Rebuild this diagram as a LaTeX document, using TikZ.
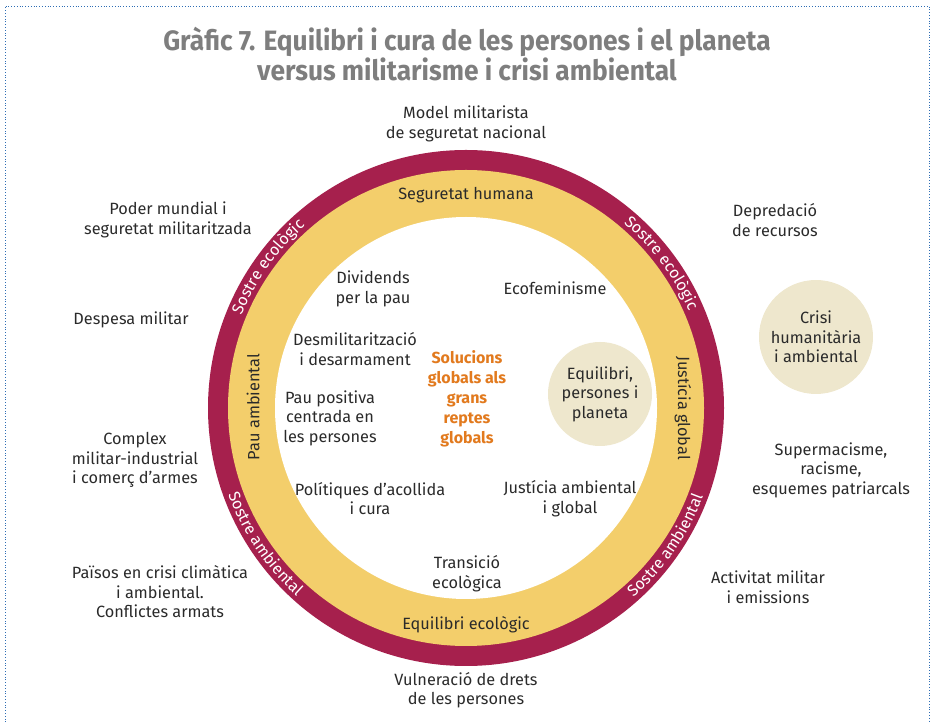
\documentclass[tikz,border=0pt]{standalone}
\usepackage{fontspec}
\setmainfont{Fira Sans}
\newfontfamily\titlefont{Fira Sans}[FakeStretch=0.94]
\usetikzlibrary{decorations.text,calc}
\definecolor{ringred}{HTML}{A6204D}
\definecolor{ringyel}{HTML}{F3CE6B}
\definecolor{beige}{HTML}{EEE7CD}
\definecolor{orng}{HTML}{E27A1E}
\definecolor{tgray}{HTML}{7E7E7E}
\definecolor{ink}{HTML}{2A2A2A}
\definecolor{bordblue}{HTML}{2E6DB4}
\begin{document}
\begin{tikzpicture}[x=1pt,y=1pt,
  txt/.style={font=\fontsize{16.3}{19.5}\selectfont, text=ink, align=center, inner sep=0pt},
  sol/.style={font=\bfseries\fontsize{16}{20}\selectfont, text=orng, align=center, inner sep=0pt},
  ttl/.style={font=\titlefont\bfseries\fontsize{28}{28}\selectfont, text=tgray, align=center, inner sep=0pt},
  disc/.style={circle, inner sep=0pt, draw=none},
  ringtext/.style={decorate, decoration={text along path, text align=center,
      text={|\color{white}\fontsize{16}{16}\selectfont|#1}}},
  bord/.style={draw=bordblue, line width=0.8pt, dotted}]
\useasboundingbox (0,0) rectangle (932,723);
\draw[bord] (5,-2) -- (5,717) -- (929,717) -- (929,-2);
\coordinate (C) at (466,315);

% title
\node[ttl] (title) at (467,669) {Gràfic 7. Equilibri i cura de les persones i el planeta\\versus militarisme i crisi ambiental};

% rings
\node[disc, fill=ringred, minimum size=516] (outer) at (C) {};
\node[disc, fill=ringyel, minimum size=476] (middle) at (C) {};
\node[disc, fill=white, minimum size=382] (inner) at (C) {};

% curved texts on red ring
\path[ringtext={Sostre ecològic}] ($(C)+(172:243)$) arc[start angle=172, end angle=117, radius=243];
\path[ringtext={Sostre ecològic}] ($(C)+(64:243)$) arc[start angle=64, end angle=9, radius=243];
\path[ringtext={Sostre ambiental}] ($(C)+(186:253)$) arc[start angle=186, end angle=242, radius=253];
\path[ringtext={Sostre ambiental}] ($(C)+(298:253)$) arc[start angle=298, end angle=353, radius=253];

% yellow ring labels
\node[txt] (segh) at (466,528) {Seguretat humana};
\node[txt] (eqec) at (466,98) {Equilibri ecològic};
\node[txt, rotate=90] (pauamb) at (253,316) {Pau ambiental};
\node[txt, rotate=-90] (jusglob) at (683,315) {Justícia global};

% inner texts
\node[txt] (divid) at (373,434) {Dividends\\per la pau};
\node[txt] (ecofem) at (555,435) {Ecofeminisme};
\node[txt] (desmil) at (355,374) {Desmilitarització\\i desarmament};
\node[txt] (paupos) at (330,305) {Pau positiva\\centrada en\\les persones};
\node[sol] (solu) at (467,324) {Solucions\\globals als\\grans\\reptes\\globals};
\node[txt] (polit) at (370,224.5) {Polítiques d'acollida\\i cura};
\node[txt] (jusamb) at (570,224.5) {Justícia ambiental\\i global};
\node[txt] (trans) at (467,149.5) {Transició\\ecològica};
\node[disc, fill=beige, minimum size=104, txt] (equil) at (600,329) {Equilibri,\\persones i\\planeta};

% outer texts
\node[txt] (model) at (466,599) {Model militarista\\de seguretat nacional};
\node[txt] (poder) at (168,503) {Poder mundial i\\seguretat militaritzada};
\node[txt] (despesa) at (131,403) {Despesa militar};
\node[txt] (complex) at (135,263) {Complex\\militar-industrial\\i comerç d'armes};
\node[txt] (paisos) at (160,131) {Països en crisi climàtica\\i ambiental.\\Conflictes armats};
\node[txt] (vulner) at (466,33) {Vulneració de drets\\de les persones};
\node[txt] (depred) at (775,503) {Depredació\\de recursos};
\node[disc, fill=beige, minimum size=114, txt] (crisi) at (816,386) {Crisi\\humanitària\\i ambiental};
\node[txt] (supre) at (831,253) {Supermacisme,\\racisme,\\esquemes patriarcals};
\node[txt] (activ) at (768,136) {Activitat militar\\i emissions};
\end{tikzpicture}
\end{document}
